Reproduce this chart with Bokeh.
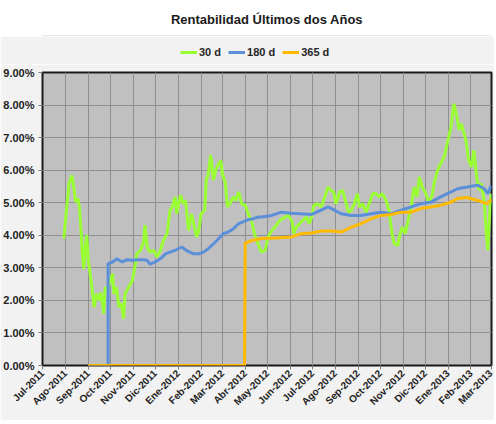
from math import pi
from bokeh.plotting import figure
from bokeh.models import FixedTicker, PrintfTickFormatter, Legend, ColumnDataSource, Range1d, Span
from bokeh.layouts import column
from bokeh.embed import file_html
from bokeh.resources import INLINE

# x values are days counted from 2011-07-01
month_days = [0, 31, 62, 92, 123, 153, 184, 215, 244, 275, 305, 336, 366,
              397, 428, 458, 489, 519, 550, 581, 609]
month_labels = ["Jul-2011", "Ago-2011", "Sep-2011", "Oct-2011", "Nov-2011",
                "Dic-2011", "Ene-2012", "Feb-2012", "Mar-2012", "Abr-2012",
                "May-2012", "Jun-2012", "Jul-2012", "Ago-2012", "Sep-2012",
                "Oct-2012", "Nov-2012", "Dic-2012", "Ene-2013", "Feb-2013",
                "Mar-2013"]
y_ticks = [0, 1, 2, 3, 4, 5, 6, 7, 8, 9]

# 30 d series (percent)
d30_day = [29, 32, 36, 40, 43, 45, 48, 50, 52, 54,
           56, 58, 60, 62, 64, 68, 70, 73, 77, 79,
           81, 83, 85, 88, 95, 97, 100, 104, 107, 110,
           112, 117, 122, 126, 128, 133, 137, 139, 142, 146,
           151, 155, 160, 164, 169, 173, 176, 180, 182, 187,
           191, 194, 198, 202, 205, 209, 212, 215, 220, 222,
           225, 228, 232, 235, 239, 242, 244, 248, 251, 254,
           259, 262, 266, 270, 275, 279, 284, 288, 293, 297,
           302, 306, 311, 315, 322, 329, 333, 338, 341, 344,
           349, 353, 358, 362, 365, 368, 373, 378, 383, 387,
           391, 395, 398, 403, 407, 412, 415, 419, 423, 427,
           430, 434, 439, 443, 448, 452, 457, 461, 466, 470,
           474, 477, 482, 485, 488, 492, 495, 500, 504, 508,
           511, 515, 520, 524, 529, 531, 536, 540, 545, 549,
           554, 558, 562, 565, 568, 572, 575, 578, 582, 585,
           589, 592, 595, 599, 602, 604, 607, 609]
d30_val = [3.90, 4.66, 5.59, 5.84, 5.38, 5.02, 5.13, 4.87, 4.25, 3.43,
           2.97, 3.64, 4.00, 3.23, 2.92, 2.20, 1.79, 2.20, 2.00, 2.25,
           2.00, 1.59, 2.41, 2.30, 2.82, 2.20, 2.41, 1.79, 1.90, 1.44,
           2.20, 2.41, 2.61, 3.13, 3.43, 3.54, 3.79, 4.31, 3.64, 3.48,
           3.54, 3.33, 3.54, 3.84, 4.05, 4.77, 4.87, 5.18, 4.66, 5.23,
           4.97, 5.07, 4.15, 4.66, 4.36, 3.95, 4.15, 4.66, 4.77, 5.69,
           5.89, 6.46, 5.69, 6.00, 6.20, 6.30, 5.89, 5.59, 4.87, 4.97,
           5.18, 5.07, 5.33, 4.97, 4.92, 4.66, 4.40, 4.00, 3.70, 3.48,
           3.54, 3.95, 4.15, 4.25, 4.46, 4.56, 4.61, 4.46, 4.05, 4.25,
           4.36, 4.46, 4.56, 4.36, 4.56, 4.92, 4.97, 4.87, 5.18, 5.48,
           5.38, 5.33, 4.97, 5.33, 5.38, 4.97, 4.71, 4.77, 4.97, 5.28,
           4.87, 4.97, 4.71, 4.97, 5.28, 5.28, 5.18, 5.28, 5.07, 4.77,
           4.05, 3.74, 3.69, 4.05, 4.25, 4.05, 4.36, 4.87, 5.48, 5.18,
           5.79, 5.48, 5.28, 4.97, 5.28, 5.59, 6.00, 6.20, 6.41, 6.82,
           7.33, 8.04, 7.64, 7.23, 7.43, 7.12, 6.82, 6.30, 6.10, 6.61,
           5.79, 5.38, 5.59, 5.07, 4.05, 3.54, 4.87, 5.28]

# 180 d series (percent)
d180_day = [62, 89, 89, 95, 101, 108, 115, 122, 128, 135,
            142, 146, 153, 160, 167, 173, 180, 189, 196, 205,
            212, 218, 225, 232, 239, 245, 252, 259, 266, 272,
            279, 286, 293, 297, 311, 324, 338, 351, 365, 378,
            387, 396, 405, 419, 432, 446, 459, 473, 486, 500,
            513, 527, 540, 554, 563, 576, 590, 599, 604, 608,
            609]
d180_val = [0, 0, 3.13, 3.18, 3.28, 3.18, 3.25, 3.23, 3.25, 3.25,
            3.23, 3.11, 3.18, 3.28, 3.43, 3.48, 3.54, 3.64, 3.52, 3.43,
            3.43, 3.48, 3.59, 3.74, 3.90, 4.05, 4.10, 4.20, 4.36, 4.41,
            4.48, 4.51, 4.56, 4.56, 4.61, 4.71, 4.68, 4.66, 4.64, 4.77,
            4.87, 4.77, 4.66, 4.61, 4.61, 4.66, 4.71, 4.66, 4.77, 4.87,
            4.97, 5.02, 5.18, 5.33, 5.43, 5.48, 5.54, 5.43, 5.28, 5.50,
            5.45]

# 365 d series (percent)
d365_day = [62, 274, 275, 284, 297, 315, 338, 351, 365, 378,
            392, 405, 419, 432, 446, 459, 473, 486, 500, 513,
            527, 540, 554, 563, 576, 590, 603, 609]
d365_val = [0, 0, 3.76, 3.84, 3.90, 3.92, 3.95, 4.05, 4.07, 4.13,
            4.13, 4.10, 4.25, 4.36, 4.51, 4.61, 4.64, 4.71, 4.71, 4.82,
            4.87, 4.92, 5.02, 5.13, 5.16, 5.07, 4.97, 5.10]

series_names = ["30 d", "180 d", "365 d"]
series_colors = ["#99FF33", "#5B8FD9", "#FFBA00"]

FONT = "Liberation Sans"
PANEL = "#f2f2f2"
W = 494


def bare(height, fill, **kw):
    f = figure(width=W, height=height, output_backend="svg", toolbar_location=None,
               x_range=Range1d(0, 1), y_range=Range1d(0, 1),
               x_axis_location=None, y_axis_location=None,
               border_fill_color=fill, background_fill_color=fill,
               outline_line_color=None, min_border_left=0, min_border_right=0,
               min_border_bottom=0, **kw)
    f.grid.visible = False
    return f


# ---- white title band
tfig = bare(36, "white", min_border_top=28)
tfig.title.text = "Rentabilidad Últimos dos Años"
tfig.title.align = "center"
tfig.title.text_font = FONT
tfig.title.text_font_size = "13px"
tfig.title.text_font_style = "bold"
tfig.title.text_color = "#1a1a1a"
tfig.title.standoff = 3
tfig.add_layout(Span(location=0, dimension="width", line_color="#d0d0d0", line_width=2))

# ---- grey legend band
lfig = bare(28, PANEL, min_border_top=0)
nan = float("nan")
legend_glyphs = [lfig.line(x=[nan], y=[nan], line_color=c, line_width=3)
                 for c in series_colors]
legend = Legend(items=[(n, [r]) for n, r in zip(series_names, legend_glyphs)],
                orientation="horizontal", location=(138, 6),
                label_text_font=FONT, label_text_font_size="11px",
                label_text_font_style="bold", label_text_color="#262626",
                glyph_width=17, glyph_height=12, label_standoff=2, spacing=7,
                padding=3, margin=0, background_fill_alpha=0,
                border_line_color=None)
lfig.add_layout(legend)

# ---- main chart
p = figure(width=W, height=356, output_backend="svg", toolbar_location=None,
           x_range=Range1d(0, 609), y_range=Range1d(0, 9),
           background_fill_color="#c0c0c0", border_fill_color=PANEL,
           outline_line_color="#1a1a1a", outline_line_width=2,
           min_border_top=8, min_border_right=3, min_border_left=38,
           min_border_bottom=55)

for days, vals, color in [(d30_day, d30_val, series_colors[0]),
                          (d180_day, d180_val, series_colors[1]),
                          (d365_day, d365_val, series_colors[2])]:
    src = ColumnDataSource(dict(x=days, y=vals))
    p.line("x", "y", source=src, line_color=color, line_width=3)

p.xaxis.ticker = FixedTicker(ticks=month_days)
p.xaxis.major_label_overrides = {d: l for d, l in zip(month_days, month_labels)}
p.xaxis.major_label_orientation = pi / 4
p.yaxis.ticker = FixedTicker(ticks=y_ticks)
p.yaxis.formatter = PrintfTickFormatter(format="%.2f%%")

for ax in (p.xaxis[0], p.yaxis[0]):
    ax.axis_line_color = None
    ax.major_tick_line_color = "#808080"
    ax.major_tick_out = 4
    ax.major_tick_in = 0
    ax.minor_tick_line_color = None
    ax.major_label_text_font = FONT
    ax.major_label_text_font_style = "bold"
    ax.major_label_text_color = "#222222"
p.yaxis.major_label_standoff = 4
p.xaxis.major_label_standoff = 2
p.yaxis.major_label_text_font_size = "11px"
p.xaxis.major_label_text_font_size = "10px"

p.grid.grid_line_color = "#8f8f8f"
p.grid.grid_line_width = 1

layout = column(tfig, lfig, p, spacing=0)
open("out.html", "w").write(file_html(layout, INLINE))
